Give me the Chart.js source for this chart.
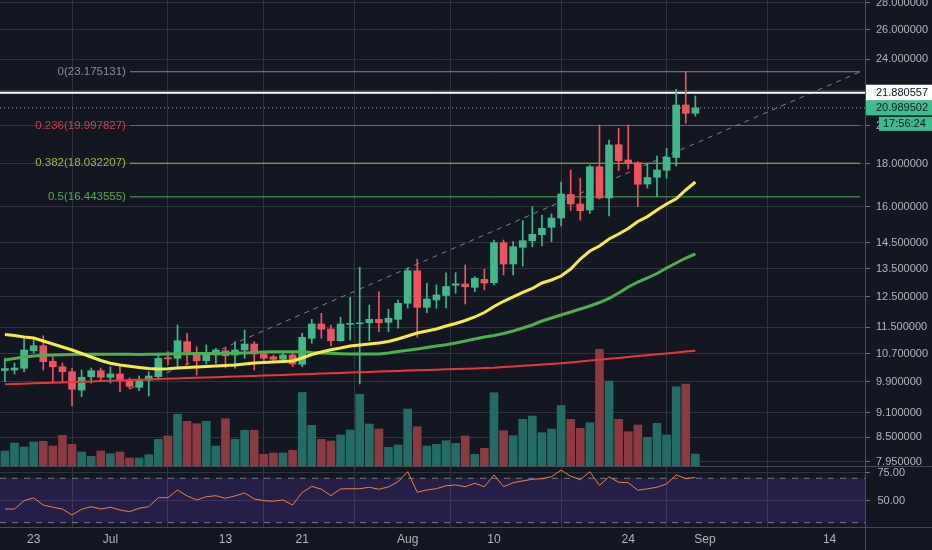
<!DOCTYPE html>
<html><head><meta charset="utf-8">
<script src="https://cdn.jsdelivr.net/npm/chart.js@4.4.0/dist/chart.umd.min.js"></script>
<style>html,body{margin:0;padding:0;background:#131722;overflow:hidden}canvas{display:block}</style>
</head><body>
<canvas id="c" width="932" height="550"></canvas>
<script>
// Daily candles, day 0 = Jun 20
const openP  = [10.213,10.227,10.275,10.783,10.932,10.474,10.320,10.180,9.681,10.041,10.208,10.025,10.116,9.923,9.753,9.950,10.041,10.578,10.561,11.053,10.736,10.491,10.657,10.783,10.657,10.804,10.983,10.686,10.607,10.532,10.657,10.388,11.156,11.603,11.445,11.083,11.594,11.609,11.644,11.753,11.657,11.753,12.280,13.429,12.146,12.392,12.546,12.905,12.948,12.831,13.116,12.994,14.501,13.678,14.319,14.581,14.823,15.127,15.518,16.551,16.125,15.862,17.862,16.393,18.973,18.193,18.059,17.033,17.350,17.687,18.319,21.155,20.680];
const highP  = [10.570,10.425,11.135,11.104,11.236,10.607,10.425,10.284,10.227,10.284,10.284,10.320,10.320,10.005,10.061,10.180,10.716,10.754,11.571,11.310,10.902,10.953,10.854,10.863,11.053,11.413,11.053,10.745,10.657,10.754,10.707,11.310,11.753,11.948,11.571,11.818,12.484,13.555,12.223,12.677,12.080,12.392,13.529,13.856,12.973,12.912,13.355,13.355,13.641,13.210,13.481,14.609,14.609,14.541,15.403,16.006,15.646,15.689,17.128,17.701,17.303,17.945,20.026,19.219,19.846,20.026,18.109,18.029,18.394,18.776,22.087,23.175,21.684];
const lowP   = [9.904,10.116,10.180,10.716,10.227,9.904,9.904,9.266,9.505,9.869,9.904,9.869,9.636,9.712,9.663,9.523,9.950,10.368,10.320,10.368,10.088,10.397,10.417,10.284,10.276,10.561,10.227,10.454,10.463,10.463,10.320,10.320,11.004,11.156,10.922,11.070,11.104,9.842,11.083,11.360,11.360,11.467,12.123,11.187,11.968,12.113,12.123,12.622,12.257,12.677,12.737,12.912,13.272,13.272,13.603,14.343,14.370,14.541,15.181,15.840,15.433,15.719,16.348,15.603,17.677,17.750,16.006,16.848,16.451,17.303,17.896,20.119,20.526];
const closeP = [10.269,10.284,10.804,10.932,10.463,10.320,10.180,9.700,10.025,10.208,10.025,10.116,9.923,9.780,9.950,10.061,10.561,10.541,11.083,10.736,10.491,10.736,10.804,10.636,10.804,10.983,10.686,10.561,10.532,10.657,10.397,11.187,11.603,11.435,11.083,11.603,11.625,11.641,11.753,11.644,11.786,12.280,13.429,12.146,12.426,12.563,12.859,12.955,12.852,13.153,12.984,14.501,13.678,14.343,14.581,14.839,15.085,15.518,16.573,16.125,15.831,17.862,16.393,18.957,18.158,18.059,17.024,17.341,17.701,18.329,21.155,20.680,20.990];
const volume = [150,230,190,240,247,200,307,217,140,97,150,123,140,80,80,113,267,300,517,447,423,447,200,473,267,357,357,117,130,130,157,735,407,267,250,310,360,717,420,370,187,210,570,393,200,217,253,227,300,117,177,733,353,303,467,500,333,370,605,467,377,433,1167,850,467,343,410,287,427,310,793,820,120];
const maFast = [11.273,11.242,11.196,11.165,11.074,10.983,10.893,10.804,10.701,10.599,10.497,10.417,10.368,10.332,10.298,10.269,10.255,10.264,10.284,10.298,10.312,10.326,10.340,10.354,10.368,10.397,10.426,10.440,10.454,10.469,10.483,10.570,10.671,10.745,10.813,10.863,10.923,10.953,10.983,11.013,11.059,11.135,11.227,11.319,11.382,11.445,11.539,11.618,11.714,11.828,11.975,12.173,12.348,12.495,12.651,12.789,12.984,13.091,13.235,13.492,13.867,14.175,14.370,14.649,14.851,15.077,15.369,15.577,15.862,16.125,16.358,16.756,17.128];
const maMid  = [10.512,10.555,10.599,10.628,10.648,10.657,10.666,10.672,10.677,10.677,10.680,10.677,10.677,10.677,10.674,10.677,10.680,10.686,10.692,10.695,10.701,10.701,10.704,10.707,10.707,10.716,10.730,10.745,10.754,10.754,10.754,10.751,10.730,10.716,10.707,10.695,10.686,10.686,10.686,10.686,10.716,10.760,10.795,10.834,10.878,10.923,10.959,11.013,11.074,11.135,11.196,11.242,11.304,11.382,11.476,11.571,11.698,11.795,11.893,11.992,12.090,12.190,12.307,12.443,12.632,12.842,13.019,13.163,13.327,13.529,13.716,13.905,14.059];
const maSlow = [9.834,9.842,9.850,9.861,9.869,9.877,9.885,9.896,9.904,9.912,9.921,9.931,9.940,9.948,9.956,9.967,9.975,9.983,9.992,10.003,10.011,10.019,10.027,10.038,10.047,10.055,10.063,10.074,10.082,10.091,10.099,10.110,10.118,10.127,10.138,10.146,10.155,10.163,10.174,10.182,10.191,10.199,10.210,10.219,10.227,10.236,10.247,10.255,10.264,10.272,10.284,10.292,10.309,10.329,10.346,10.363,10.383,10.400,10.417,10.443,10.469,10.494,10.520,10.546,10.572,10.599,10.625,10.651,10.677,10.704,10.730,10.757,10.783];
const rsi    = [42.3,42.3,49.8,52.3,45.9,43.9,42.3,36.9,42.1,44.4,42.3,43.9,41.4,39.9,43.0,44.4,52.5,52.5,59.5,54.1,50.5,53.4,54.3,52.0,54.1,56.8,51.4,49.8,49.3,50.5,45.9,57.2,62.7,60.1,54.3,60.4,60.6,60.6,61.9,60.1,62.2,66.9,75.9,57.4,59.5,60.6,63.3,64.0,62.4,65.5,62.4,73.0,62.4,66.0,67.6,69.1,69.6,71.4,77.3,71.8,68.8,75.9,63.6,71.4,66.4,66.0,59.2,60.5,61.9,64.9,73.0,69.7,70.7];

const priceTicks = [28,26,24,22,20,18,16,14.5,13.5,12.5,11.5,10.7,9.9,9.1,8.5,7.95];
const rsiTicks = [75,50];
const rsiBands = [70,30];
const xTickDays = [3,11,23,31,42,51,65,73,86];
const xTickLabels = ['23','Jul','13','21','Aug','10','24','Sep','14'];
const fibRatios = ['0','0.236','0.382','0.5'];
const fibValues = [23.175131,19.997827,18.032207,16.443555];
const fibColors = ['#8a8d97','#c8414a','#a9b83c','#4caf50'];
const fibStartDay = 13.04, fibEndDay = 89.2, fibLow = 9.712;
const markLine = 21.880557;
const lastPrice = 20.989502;
const countdown = '17:56:24';

const X_MIN = -0.511, X_MAX = 89.69;
const days = closeP.map((_, i) => i);
const up = days.map(i => closeP[i] >= openP[i]);
const UP = '#3fb98b', DN = '#f0525f';
const FAMILY = '"Liberation Sans", Arial, sans-serif';
const FONT = '11.5px ' + FAMILY;
const GRID = '#30343f';

const datasets = [];
datasets.push({type:'line', data: days.map(i=>({x:i,y:maFast[i]})), borderColor:'#f6ec3f', borderWidth:3, pointRadius:0, yAxisID:'y', order:1});
datasets.push({type:'line', data: days.map(i=>({x:i,y:maMid[i]})), borderColor:'#4caf50', borderWidth:3, pointRadius:0, yAxisID:'y', order:2});
datasets.push({type:'line', data: days.map(i=>({x:i,y:maSlow[i]})), borderColor:'#e53935', borderWidth:2, pointRadius:0, yAxisID:'y', order:3});
datasets.push({type:'bar', data: days.map(i=>({x:i,y:[openP[i],closeP[i]]})), backgroundColor: days.map(i=>up[i]?UP:DN), barThickness:7, minBarLength:1, grouped:false, yAxisID:'y', order:4});
datasets.push({type:'bar', data: days.map(i=>({x:i,y:[lowP[i],highP[i]]})), backgroundColor: days.map(i=>up[i]?UP:DN), barThickness:1, grouped:false, yAxisID:'y', order:5});
datasets.push({type:'line', data: [{x:X_MIN,y:markLine},{x:X_MAX,y:markLine}], borderColor:'#ffffff', borderWidth:2, pointRadius:0, yAxisID:'y', order:6});
datasets.push({type:'line', data: [{x:X_MIN,y:lastPrice},{x:X_MAX,y:lastPrice}], borderColor:'#a9adb6', borderWidth:1, borderDash:[1,3], pointRadius:0, yAxisID:'y', order:7});
datasets.push({type:'line', data: [{x:fibStartDay,y:fibLow},{x:fibEndDay,y:fibValues[0]}], borderColor:'#80838d', borderWidth:1, borderDash:[5,5], pointRadius:0, yAxisID:'y', order:8});
fibValues.forEach((v,k)=>{
  datasets.push({type:'line', data:[{x:fibStartDay,y:v},{x:fibEndDay,y:v}], borderColor:fibColors[k], borderWidth:1, pointRadius:0, yAxisID:'y', order:9});
});
datasets.push({type:'line', data: days.map(i=>({x:i,y:rsi[i]})), borderColor:'#ee8435', borderWidth:1, pointRadius:0, yAxisID:'rsiY', order:10});
const bandStart = datasets.length;
datasets.push({type:'line', data:[{x:X_MIN,y:rsiBands[0]},{x:X_MAX,y:rsiBands[0]}], borderColor:'#787b86', borderWidth:1, borderDash:[6,6], pointRadius:0, yAxisID:'rsiY', order:11});
datasets.push({type:'line', data:[{x:X_MIN,y:rsiBands[1]},{x:X_MAX,y:rsiBands[1]}], borderColor:'#787b86', borderWidth:1, borderDash:[6,6], pointRadius:0, yAxisID:'rsiY', order:12, fill:{target:bandStart}, backgroundColor:'rgba(110,60,220,0.2)'});
datasets.push({type:'bar', data: days.map(i=>({x:i,y:volume[i]})), backgroundColor: days.map(i=>up[i]?'#236c66':'#8a3a40'), barThickness:8, grouped:false, yAxisID:'volY', order:13});

function noPad(s){ s.paddingTop=0; s.paddingBottom=0; s.paddingLeft=0; s.paddingRight=0; }

const overlay = {
  id:'overlay',
  afterDraw(chart){
    const ctx = chart.ctx, ys = chart.scales.y, xs = chart.scales.x, a = chart.chartArea;
    const W = chart.width, H = chart.height;
    ctx.save();
    // pane separators and axis line
    ctx.strokeStyle = '#464a56'; ctx.lineWidth = 1;
    const sep = Math.round(chart.scales.volY.getPixelForValue(0)) + 0.5;
    ctx.beginPath(); ctx.moveTo(0, sep); ctx.lineTo(W, sep); ctx.stroke();
    ctx.beginPath(); ctx.moveTo(0, Math.round(a.bottom)+0.5); ctx.lineTo(W, Math.round(a.bottom)+0.5); ctx.stroke();
    ctx.strokeStyle = '#4a4e59';
    ctx.beginPath(); ctx.moveTo(Math.round(a.right)+0.5, 0); ctx.lineTo(Math.round(a.right)+0.5, H); ctx.stroke();
    // fib labels
    ctx.font = FONT; ctx.textAlign = 'right'; ctx.textBaseline = 'middle';
    const lx = xs.getPixelForValue(fibStartDay) - 4;
    fibValues.forEach((v,k)=>{
      ctx.fillStyle = fibColors[k];
      ctx.fillText(fibRatios[k] + '(' + v.toFixed(6) + ')', lx, ys.getPixelForValue(v));
    });
    // price boxes on the axis
    ctx.font = '11px ' + FAMILY;
    ctx.textAlign = 'left';
    const r = a.right + 1, tx = a.right + 11;
    const y1 = ys.getPixelForValue(markLine);
    ctx.fillStyle = '#ffffff'; ctx.fillRect(r, y1-8, W-r, 16);
    ctx.fillStyle = '#131722'; ctx.fillText(markLine.toFixed(6), tx, y1);
    const y2 = ys.getPixelForValue(lastPrice);
    ctx.fillStyle = '#3dbd8d'; ctx.fillRect(r, y2-7.5, W-r, 15);
    ctx.fillStyle = '#131722'; ctx.fillText(lastPrice.toFixed(6), tx, y2);
    ctx.fillStyle = '#3dbd8d'; ctx.fillRect(a.right + 14, y2+9, W-(a.right+14), 14);
    ctx.fillStyle = '#131722'; ctx.fillText(countdown, a.right + 18, y2+16);
    ctx.restore();
  }
};

new Chart(document.getElementById('c'), {
  type:'bar',
  data:{ datasets },
  options:{
    responsive:false, animation:false, devicePixelRatio:1,
    layout:{ padding:0 },
    plugins:{ legend:{display:false}, tooltip:{enabled:false} },
    scales:{
      x:{ type:'linear', min:X_MIN, max:X_MAX, offset:false, position:'bottom',
          grid:{ color:GRID, drawTicks:false },
          border:{ display:false },
          ticks:{ color:'#b2b5be', font:{family:FAMILY, size:12}, padding:5, autoSkip:false, maxRotation:0,
                  callback:(v)=>{ const k = xTickDays.indexOf(v); return k>=0 ? xTickLabels[k] : ''; } },
          afterBuildTicks:(s)=>{ s.ticks = xTickDays.map(v=>({value:v})); },
          afterFit:(s)=>{ s.height = 23; noPad(s); } },
      y:{ type:'logarithmic', position:'right', weight:1, min:6.649, max:28.216,
          grid:{ color:GRID, tickColor:'#6f737e', tickLength:5 },
          border:{ display:false },
          ticks:{ color:'#b2b5be', font:{family:FAMILY, size:11}, padding:6, autoSkip:false,
                  callback:(v)=>Number(v).toFixed(6) },
          afterBuildTicks:(s)=>{ s.ticks = priceTicks.map(v=>({value:v})); },
          afterFit:(s)=>{ s.width = 67; noPad(s); } },
      rsiY:{ type:'linear', position:'right', weight:0, min:26.1, max:500.9,
          grid:{ color:GRID, tickColor:'#6f737e', tickLength:5 },
          border:{ display:false },
          ticks:{ color:'#b2b5be', font:{family:FAMILY, size:11}, mirror:true, padding:40, autoSkip:false,
                  callback:(v)=>Number(v).toFixed(2) },
          afterBuildTicks:(s)=>{ s.ticks = rsiTicks.map(v=>({value:v})); },
          afterFit:(s)=>{ s.width = 0; noPad(s); } },
      volY:{ type:'linear', display:false, min:-610, max:4660 }
    }
  },
  plugins:[overlay]
});
</script>
</body></html>
